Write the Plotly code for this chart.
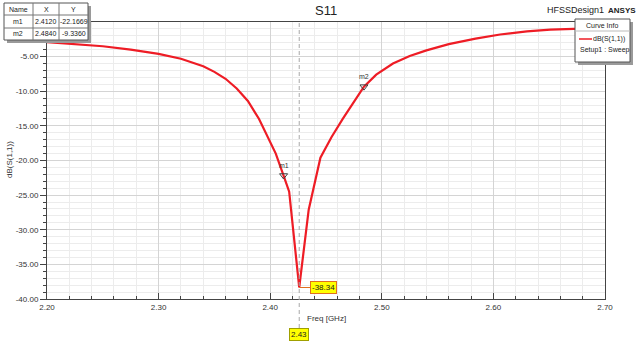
import plotly.graph_objects as go

# ---- data ----
freq = [2.20, 2.225, 2.25, 2.275, 2.30, 2.32, 2.34, 2.35, 2.36, 2.37, 2.38, 2.39, 2.399,
        2.405, 2.412, 2.417, 2.426, 2.4345, 2.445, 2.455, 2.465, 2.475, 2.484,
        2.495, 2.51, 2.525, 2.54, 2.56, 2.584, 2.606, 2.63, 2.651, 2.675, 2.70]
s11_db = [-2.9, -3.15, -3.5, -4.0, -4.6, -5.3, -6.4, -7.2, -8.2, -9.6, -11.4, -14.0, -17.0,
          -19.0, -22.17, -24.5, -38.34, -27.1, -19.6, -16.6, -14.0, -11.5, -9.336,
          -7.6, -6.0, -4.9, -4.1, -3.2, -2.4, -1.8, -1.35, -1.1, -0.95, -0.85]
marker_names = ["m1", "m2"]
marker_x = [2.4120, 2.4840]
marker_y = [-22.1669, -9.3360]
min_x_label = "2.43"
min_y_label = "-38.34"
min_freq = 2.426
min_db = -38.34
y_ticks = [-5, -10, -15, -20, -25, -30, -35, -40]
x_ticks = [2.20, 2.30, 2.40, 2.50, 2.60, 2.70]

W, H = 640, 344
L, R, T, B = 47, 605, 22, 299


def px(x):
    return (x - L) / (R - L)


def py(y):
    return (B - y) / (B - T)


FONT = "Arial, Liberation Sans, sans-serif"
fig = go.Figure()

fig.add_trace(go.Scatter(x=freq, y=s11_db, mode="lines",
                         line=dict(color="#ee1c25", width=2.2),
                         hoverinfo="skip", showlegend=False))
fig.add_trace(go.Scatter(x=marker_x, y=marker_y, mode="markers",
                         marker=dict(symbol="triangle-down-open", size=7,
                                     color="#404040", line=dict(width=1)),
                         showlegend=False))

shapes = []
annotations = []


def txt(x, y, text, size=7, xanchor="center", color="#222222", **kw):
    d = dict(x=x, y=y, xref="paper", yref="paper", text=text, showarrow=False,
             xanchor=xanchor, yanchor="middle",
             font=dict(size=size, color=color, family=FONT))
    d.update(kw)
    annotations.append(d)


# dashed vertical line at minimum
shapes.append(dict(type="line", xref="x", yref="paper", x0=min_freq, x1=min_freq,
                   y0=py(328), y1=1, line=dict(color="#a8a8a8", width=1, dash="4px,3px")))

# marker labels
for n, x, y in zip(marker_names, marker_x, marker_y):
    annotations.append(dict(x=x, y=y, xref="x", yref="y", text=n, showarrow=False,
                            xanchor="center", yanchor="middle",
                            yshift=10, font=dict(size=7, color="#333333", family=FONT)))

# min labels
annotations.append(dict(x=min_freq, y=min_db, xref="x", yref="y", text=min_y_label,
                        showarrow=True, arrowhead=0, arrowcolor="#e07020", arrowwidth=1,
                        ax=24, ay=0, bgcolor="#ffff00", bordercolor="#e07020",
                        borderwidth=1, borderpad=1,
                        font=dict(size=8, color="#222222", family=FONT)))
annotations.append(dict(x=min_freq, y=py(334), xref="x", yref="paper", text=min_x_label,
                        showarrow=False, xanchor="center", yanchor="middle",
                        bgcolor="#ffff00", bordercolor="#a0a000",
                        borderwidth=1, borderpad=1,
                        font=dict(size=8, color="#222222", family=FONT)))

# titles
txt(0.5, py(10), "S11", size=13)
txt(px(575), py(10), "HFSSDesign1", size=9)
txt(px(622), py(10), "<b>ANSYS</b>", size=8)
txt(0.5, py(318), "Freq [GHz]", size=8, color="#333333")
txt(px(9), py(160), "dB(S(1,1))", size=8, color="#333333", textangle=-90)

# marker table (top-left)
tx0, tx1, ty0, ty1 = 4, 88, 3, 40
cols = [4, 33, 59, 88]
rows = [3, 15, 28, 40]
shapes.append(dict(type="rect", xref="paper", yref="paper", x0=px(tx0 + 3), x1=px(tx1 + 3),
                   y0=py(ty1 + 3), y1=py(ty0 + 3), fillcolor="#9a9a9a", line=dict(width=0)))
shapes.append(dict(type="rect", xref="paper", yref="paper", x0=px(tx0), x1=px(tx1),
                   y0=py(ty1), y1=py(ty0), fillcolor="white", line=dict(color="#555555", width=1)))
for c in cols[1:-1]:
    shapes.append(dict(type="line", xref="paper", yref="paper", x0=px(c), x1=px(c),
                       y0=py(ty1), y1=py(ty0), line=dict(color="#777777", width=1)))
for r in rows[1:-1]:
    shapes.append(dict(type="line", xref="paper", yref="paper", x0=px(tx0), x1=px(tx1),
                       y0=py(r), y1=py(r), line=dict(color="#777777", width=1)))
table = [["Name", "X", "Y"]] + [[n, f"{x:.4f}", f"{y:.4f}"]
                                for n, x, y in zip(marker_names, marker_x, marker_y)]
for ri, row in enumerate(table):
    for ci, t in enumerate(row):
        txt(px((cols[ci] + cols[ci + 1]) / 2), py((rows[ri] + rows[ri + 1]) / 2), t, size=7)

# curve info box (top-right)
bx0, bx1, by0, by1 = 575, 630, 19, 62
shapes.append(dict(type="rect", xref="paper", yref="paper", x0=px(bx0 + 3), x1=px(bx1 + 3),
                   y0=py(by1 + 3), y1=py(by0 + 3), fillcolor="#9a9a9a", line=dict(width=0)))
shapes.append(dict(type="rect", xref="paper", yref="paper", x0=px(bx0), x1=px(bx1),
                   y0=py(by1), y1=py(by0), fillcolor="white", line=dict(color="#555555", width=1)))
shapes.append(dict(type="line", xref="paper", yref="paper", x0=px(bx0), x1=px(bx1),
                   y0=py(31), y1=py(31), line=dict(color="#bbbbbb", width=1)))
shapes.append(dict(type="line", xref="paper", yref="paper", x0=px(579), x1=px(592),
                   y0=py(39), y1=py(39), line=dict(color="#ee1c25", width=1.5)))
txt(px(602), py(25), "Curve Info", size=7)
txt(px(627), py(39), "dB(S(1,1))", size=7, xanchor="right")
txt(px(578), py(50), "Setup1 : Sweep", size=7, xanchor="left")

fig.update_layout(
    width=W, height=H,
    margin=dict(l=L, r=W - R, t=T, b=H - B, pad=0),
    paper_bgcolor="white", plot_bgcolor="white",
    font=dict(family=FONT, size=8, color="#333333"),
    shapes=shapes, annotations=annotations, showlegend=False,
    xaxis=dict(range=[2.2, 2.7], tickvals=x_ticks,
               ticktext=[f"{v:.2f}" for v in x_ticks],
               showgrid=True, gridcolor="#d4d4d4", gridwidth=1,
               ticks="inside", ticklen=6, tickcolor="#444444",
               showline=True, linecolor="#444444", linewidth=1, mirror=True,
               zeroline=False, tickfont=dict(size=8, color="#333333"),
               minor=dict(dtick=0.02, tick0=2.2, showgrid=True, gridcolor="#ececec",
                          ticks="inside", ticklen=3, tickcolor="#444444")),
    yaxis=dict(range=[-40, 0], tickvals=y_ticks,
               ticktext=[f"{v:.2f}" for v in y_ticks],
               showgrid=True, gridcolor="#d4d4d4", gridwidth=1,
               ticks="outside", ticklen=6, tickcolor="#444444",
               showline=True, linecolor="#444444", linewidth=1, mirror=True,
               zeroline=False, tickfont=dict(size=8, color="#333333"),
               minor=dict(dtick=1, tick0=0, showgrid=True, gridcolor="#ececec",
                          ticks="outside", ticklen=3, tickcolor="#444444")),
)

fig.write_html("out.html")
